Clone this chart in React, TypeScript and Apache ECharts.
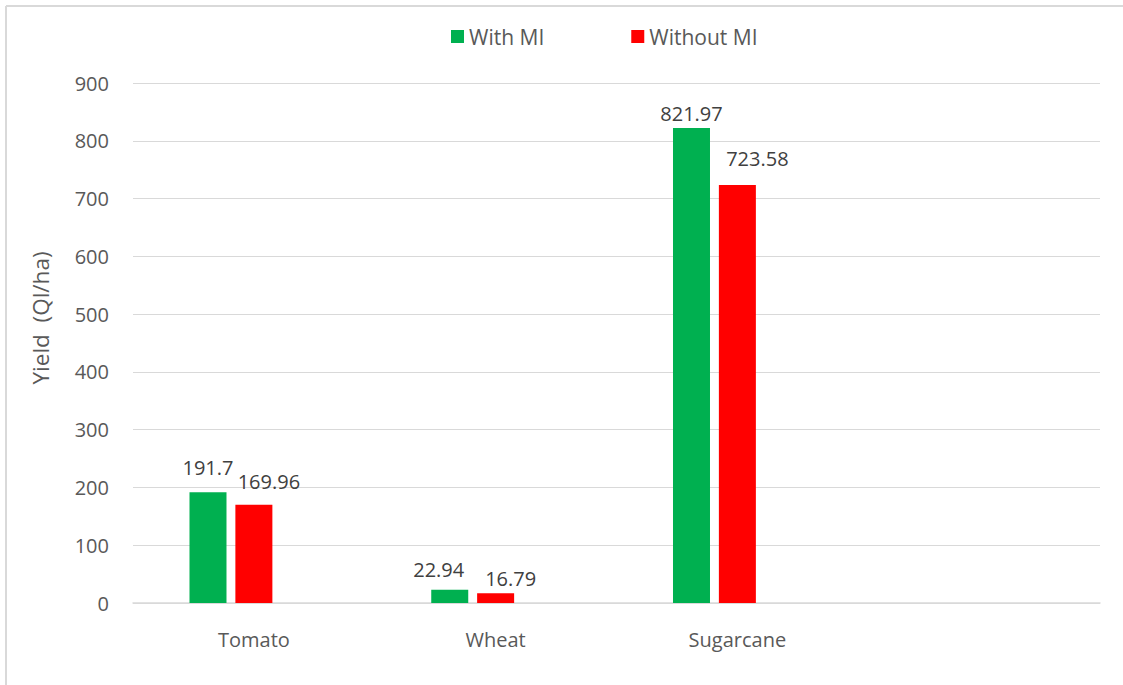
import React, { useEffect, useRef } from "react";
import * as echarts from "echarts";

const categories = ["Tomato", "Wheat", "Sugarcane", ""];
const withMI = [191.7, 22.94, 821.97, null];
const withoutMI = [169.96, 16.79, 723.58, null];
const blankSeries = [null, null, null, null];
const seriesNames = ["With MI", "Without MI"];
const yTicks = { min: 0, max: 900, interval: 100 };
const yTitle = "Yield  (Ql/ha)";

// manual label nudges (as in the source chart), [dx, dy] in px
const withMILabelShift = [[0, -15], [-11, -10], [0, -5], [0, 0]];
const withoutMILabelShift = [[15, -13], [15, -5], [20, -16], [0, 0]];

const FONT = "'Open Sans', 'Liberation Sans', sans-serif";

export default function App() {
  const ref = useRef<HTMLDivElement>(null);
  useEffect(() => {
    if (!ref.current) return;
    document.body.style.margin = "0";
    document.body.style.overflow = "hidden";
    const chart = echarts.init(ref.current, undefined, { renderer: "svg" });
    const baseLabel = {
      show: true,
      position: "top" as const,
      distance: 0,
      color: "#404040",
      fontSize: 20,
      fontFamily: FONT,
    };
    const build = (vals: (number | null)[], shifts: number[][]) =>
      vals.map((v, i) => ({
        value: v,
        label: { ...baseLabel, offset: shifts[i] },
      }));
    chart.setOption({
      animation: false,
      backgroundColor: "#ffffff",
      textStyle: { fontFamily: FONT },
      legend: {
        data: seriesNames,
        left: 446,
        top: 21,
        itemWidth: 13,
        itemHeight: 13,
        itemGap: 87,
        icon: "rect",
        textStyle: { color: "#595959", fontSize: 21, fontFamily: FONT },
      },
      grid: { left: 133, right: 23, top: 83, bottom: 82, containLabel: false },
      xAxis: {
        type: "category",
        data: categories,
        axisTick: { show: false },
        axisLine: { show: true, lineStyle: { color: "#d9d9d9", width: 1.5 } },
        axisLabel: { color: "#595959", fontSize: 20, fontFamily: FONT, margin: 26 },
        splitLine: { show: false },
      },
      yAxis: {
        type: "value",
        min: yTicks.min,
        max: yTicks.max,
        interval: yTicks.interval,
        axisLine: { show: false },
        axisTick: { show: false },
        axisLabel: { color: "#595959", fontSize: 20, fontFamily: FONT, margin: 24 },
        splitLine: { show: true, lineStyle: { color: "#d9d9d9", width: 1 } },
      },
      graphic: [
        {
          type: "line",
          shape: { x1: 6, y1: 6, x2: 1123, y2: 6 },
          style: { stroke: "#d9d9d9", lineWidth: 2 },
          silent: true,
        },
        {
          type: "line",
          shape: { x1: 6, y1: 6, x2: 6, y2: 685 },
          style: { stroke: "#d9d9d9", lineWidth: 2 },
          silent: true,
        },
        {
          type: "text",
          x: 40,
          y: 318,
          rotation: Math.PI / 2,
          style: {
            text: yTitle,
            fill: "#595959",
            fontSize: 22.5,
            fontFamily: FONT,
            align: "center",
            verticalAlign: "middle",
          },
        },
      ],
      series: [
        {
          name: seriesNames[0],
          type: "bar",
          data: build(withMI, withMILabelShift),
          barWidth: 37,
          barGap: "24%",
          itemStyle: { color: "#00B050" },
          label: baseLabel,
        },
        {
          name: seriesNames[1],
          type: "bar",
          data: build(withoutMI, withoutMILabelShift),
          barWidth: 37,
          barGap: "24%",
          itemStyle: { color: "#FF0000" },
          label: baseLabel,
        },
        {
          name: "blank",
          type: "bar",
          data: blankSeries,
          barWidth: 37,
          barGap: "24%",
          itemStyle: { color: "#7f7f7f" },
        },
      ],
    });
    return () => chart.dispose();
  }, []);
  return (
    <div
      ref={ref}
      style={{ position: "absolute", left: 0, top: 0, width: 1123, height: 685 }}
    />
  );
}
